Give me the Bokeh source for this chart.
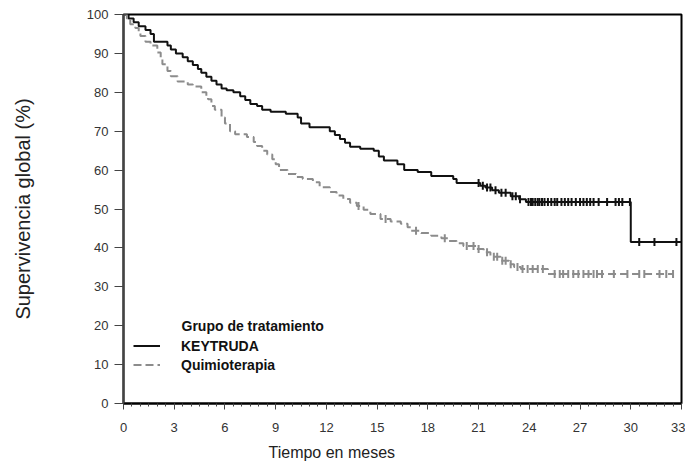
import numpy as np
from bokeh.plotting import figure
from bokeh.models import Legend, LegendItem, Label, FixedTicker, Range1d, Title
from bokeh.embed import file_html
from bokeh.resources import INLINE

# ---- data ----
x_ticks = [0, 3, 6, 9, 12, 15, 18, 21, 24, 27, 30, 33]
y_ticks = [0, 10, 20, 30, 40, 50, 60, 70, 80, 90, 100]

keytruda_t = [0, 0.3, 0.6, 0.9, 1.3, 1.6, 1.8, 2.6, 2.8, 3.1, 3.5, 3.8, 4.1, 4.4, 4.6, 4.9,
              5.2, 5.5, 5.8, 6.1, 6.5, 6.9, 7.2, 7.5, 7.9, 8.2, 8.7, 9.6, 10.3, 10.5, 11.0,
              12.2, 12.5, 12.8, 13.1, 13.4, 14.0, 14.8, 15.1, 15.4, 16.2, 16.6, 17.4, 18.2,
              19.5, 19.7, 21.1, 21.4, 21.8, 22.2, 22.9, 23.4, 23.8, 30.0, 33.0]
keytruda_s = [100, 99, 98, 97, 96, 95, 93, 92, 91, 90, 89, 88, 87, 86, 85, 84,
              83, 82, 81, 80.5, 80, 79, 78, 77, 76.5, 75.5, 75, 74.5, 73.5, 72, 71,
              70, 69, 68, 67, 66, 65.5, 65, 63.5, 62.5, 61.5, 60, 59.5, 58.5,
              57.7, 56.7, 56, 55.5, 54.8, 54.2, 53.3, 52.5, 51.8, 41.5, 41.5]
keytruda_cens = [21.0, 21.25, 21.5, 21.7, 22.0, 22.35, 22.6, 23.0, 23.2, 23.45, 23.95, 24.1,
                 24.2, 24.35, 24.5, 24.6, 24.75, 24.9, 25.1, 25.3, 25.5, 25.65, 25.9, 26.1,
                 26.3, 26.5, 26.75, 27.0, 27.2, 27.4, 27.6, 27.8, 28.1, 28.6, 29.1, 29.3,
                 29.5, 29.95, 30.5, 31.4, 32.7]

quimio_t = [0, 0.2, 0.4, 0.7, 0.9, 1.0, 1.3, 1.6, 2.0, 2.2, 2.3, 2.6, 2.8, 3.2, 3.8, 4.1,
            4.6, 4.9, 5.0, 5.2, 5.4, 5.8, 6.0, 6.3, 6.6, 7.3, 7.7, 7.9, 8.2, 8.5, 8.8, 9.0,
            9.2, 9.7, 10.2, 10.6, 11.2, 11.6, 12.2, 12.6, 13.0, 13.4, 13.8, 14.2, 14.6,
            15.2, 15.8, 16.4, 16.8, 17.0, 17.6, 18.2, 18.8, 19.2, 19.7, 20.1, 20.9, 21.3,
            21.7, 22.3, 22.8, 23.1, 23.5, 25.1, 32.5]
quimio_s = [100, 99, 97.5, 96.5, 95.5, 94.5, 93, 92, 90.2, 88.5, 87.2, 85.5, 84.1, 82.8, 82, 81.5,
            80, 79, 78.2, 76.5, 75.5, 73.5, 72, 70, 69.2, 68.5, 67.2, 66.2, 65, 64, 62.8, 61.5,
            60, 59, 58.2, 57.7, 56.9, 55.6, 54.4, 53.5, 52.6, 51.6, 50.8, 49.8, 48.7,
            47.4, 46.8, 46.2, 45.3, 44.4, 43.8, 43.1, 42.5, 41.8, 41.2, 40.5, 39.7, 38.9,
            37.7, 36.7, 35.8, 35.1, 34.6, 33.3, 33.3]
quimio_cens = [13.9, 15.5, 17.3, 19.0, 20.3, 20.7, 21.0, 21.5, 21.9, 22.1, 22.4, 22.6, 22.9,
               23.3, 23.6, 23.9, 24.2, 24.5, 24.8, 25.5, 25.8, 26.0, 26.3, 26.6, 26.9, 27.2,
               27.5, 27.8, 28.0, 28.3, 29.0, 29.8, 30.5, 30.8, 31.7, 32.1, 32.5]


def step_value(ts, ss, cens):
    ts = np.asarray(ts)
    ss = np.asarray(ss)
    idx = np.searchsorted(ts, np.asarray(cens), side="right") - 1
    return ss[idx]


FONT = "Liberation Sans"

p = figure(width=685, height=471, output_backend="svg", toolbar_location=None,
           x_range=Range1d(0, 33), y_range=Range1d(0, 100),
           min_border_left=123, min_border_top=14, min_border_right=4, min_border_bottom=68)
p.xgrid.visible = False
p.ygrid.visible = False
p.outline_line_color = "black"
p.outline_line_width = 2
p.background_fill_color = "white"

BLACK = "#111111"
GRAY = "#8c8c8c"

r_k = p.step(keytruda_t, keytruda_s, mode="after", line_color=BLACK, line_width=2)
r_q = p.step(quimio_t, quimio_s, mode="after", line_color=GRAY, line_width=2,
             line_dash="8 4")

p.scatter(keytruda_cens, step_value(keytruda_t, keytruda_s, keytruda_cens), marker="dash",
          angle=np.pi / 2, size=8, line_color=BLACK, line_width=2)
p.scatter(quimio_cens, step_value(quimio_t, quimio_s, quimio_cens), marker="dash",
          angle=np.pi / 2, size=8, line_color=GRAY, line_width=2)

# axes
p.xaxis.ticker = FixedTicker(ticks=x_ticks, minor_ticks=list(np.arange(0, 33.01, 0.5)))
p.yaxis.ticker = FixedTicker(ticks=y_ticks, minor_ticks=[])
for ax in (p.xaxis[0], p.yaxis[0]):
    ax.major_label_text_font = FONT
    ax.major_label_text_font_size = "13px"
    ax.major_label_text_color = "#333333"
    ax.major_tick_in = 0
    ax.minor_tick_in = 0
    ax.minor_tick_out = 3
    ax.axis_line_width = 2
    ax.major_tick_line_color = "#444444"
    ax.minor_tick_line_color = "#444444"
p.xaxis.major_tick_out = 6
p.yaxis.major_tick_out = 9
p.xaxis.axis_line_color = "black"
p.yaxis.axis_line_color = "#444444"
p.xaxis.major_label_standoff = 13
p.yaxis.major_label_standoff = 6

p.yaxis.axis_label = "Supervivencia global (%)"
p.yaxis.axis_label_text_font = FONT
p.yaxis.axis_label_text_font_size = "20px"
p.yaxis.axis_label_text_font_style = "normal"
p.yaxis.axis_label_text_color = "#222222"
p.yaxis.axis_label_standoff = 50

p.add_layout(Title(text="Tiempo en meses", align="left", offset=145, standoff=14,
                   text_font=FONT, text_font_size="16px", text_font_style="normal",
                   text_color="#222222"), "below")

# legend
legend = Legend(items=[LegendItem(label="KEYTRUDA", renderers=[r_k]),
                       LegendItem(label="Quimioterapia", renderers=[r_q])],
                location=(10, 29), glyph_width=27, glyph_height=19, label_height=19,
                spacing=0, padding=0, margin=0, label_standoff=21,
                label_text_font=FONT, label_text_font_style="bold",
                label_text_font_size="14px",
                label_text_color="#111111",
                border_line_color=None, background_fill_alpha=0)
p.add_layout(legend)
p.add_layout(Label(x=3.43, y=20, text="Grupo de tratamiento", text_align="left",
                   text_baseline="middle", text_font=FONT, text_font_size="14px",
                   text_font_style="bold", text_color="#111111"))

open("out.html", "w").write(file_html(p, INLINE))
